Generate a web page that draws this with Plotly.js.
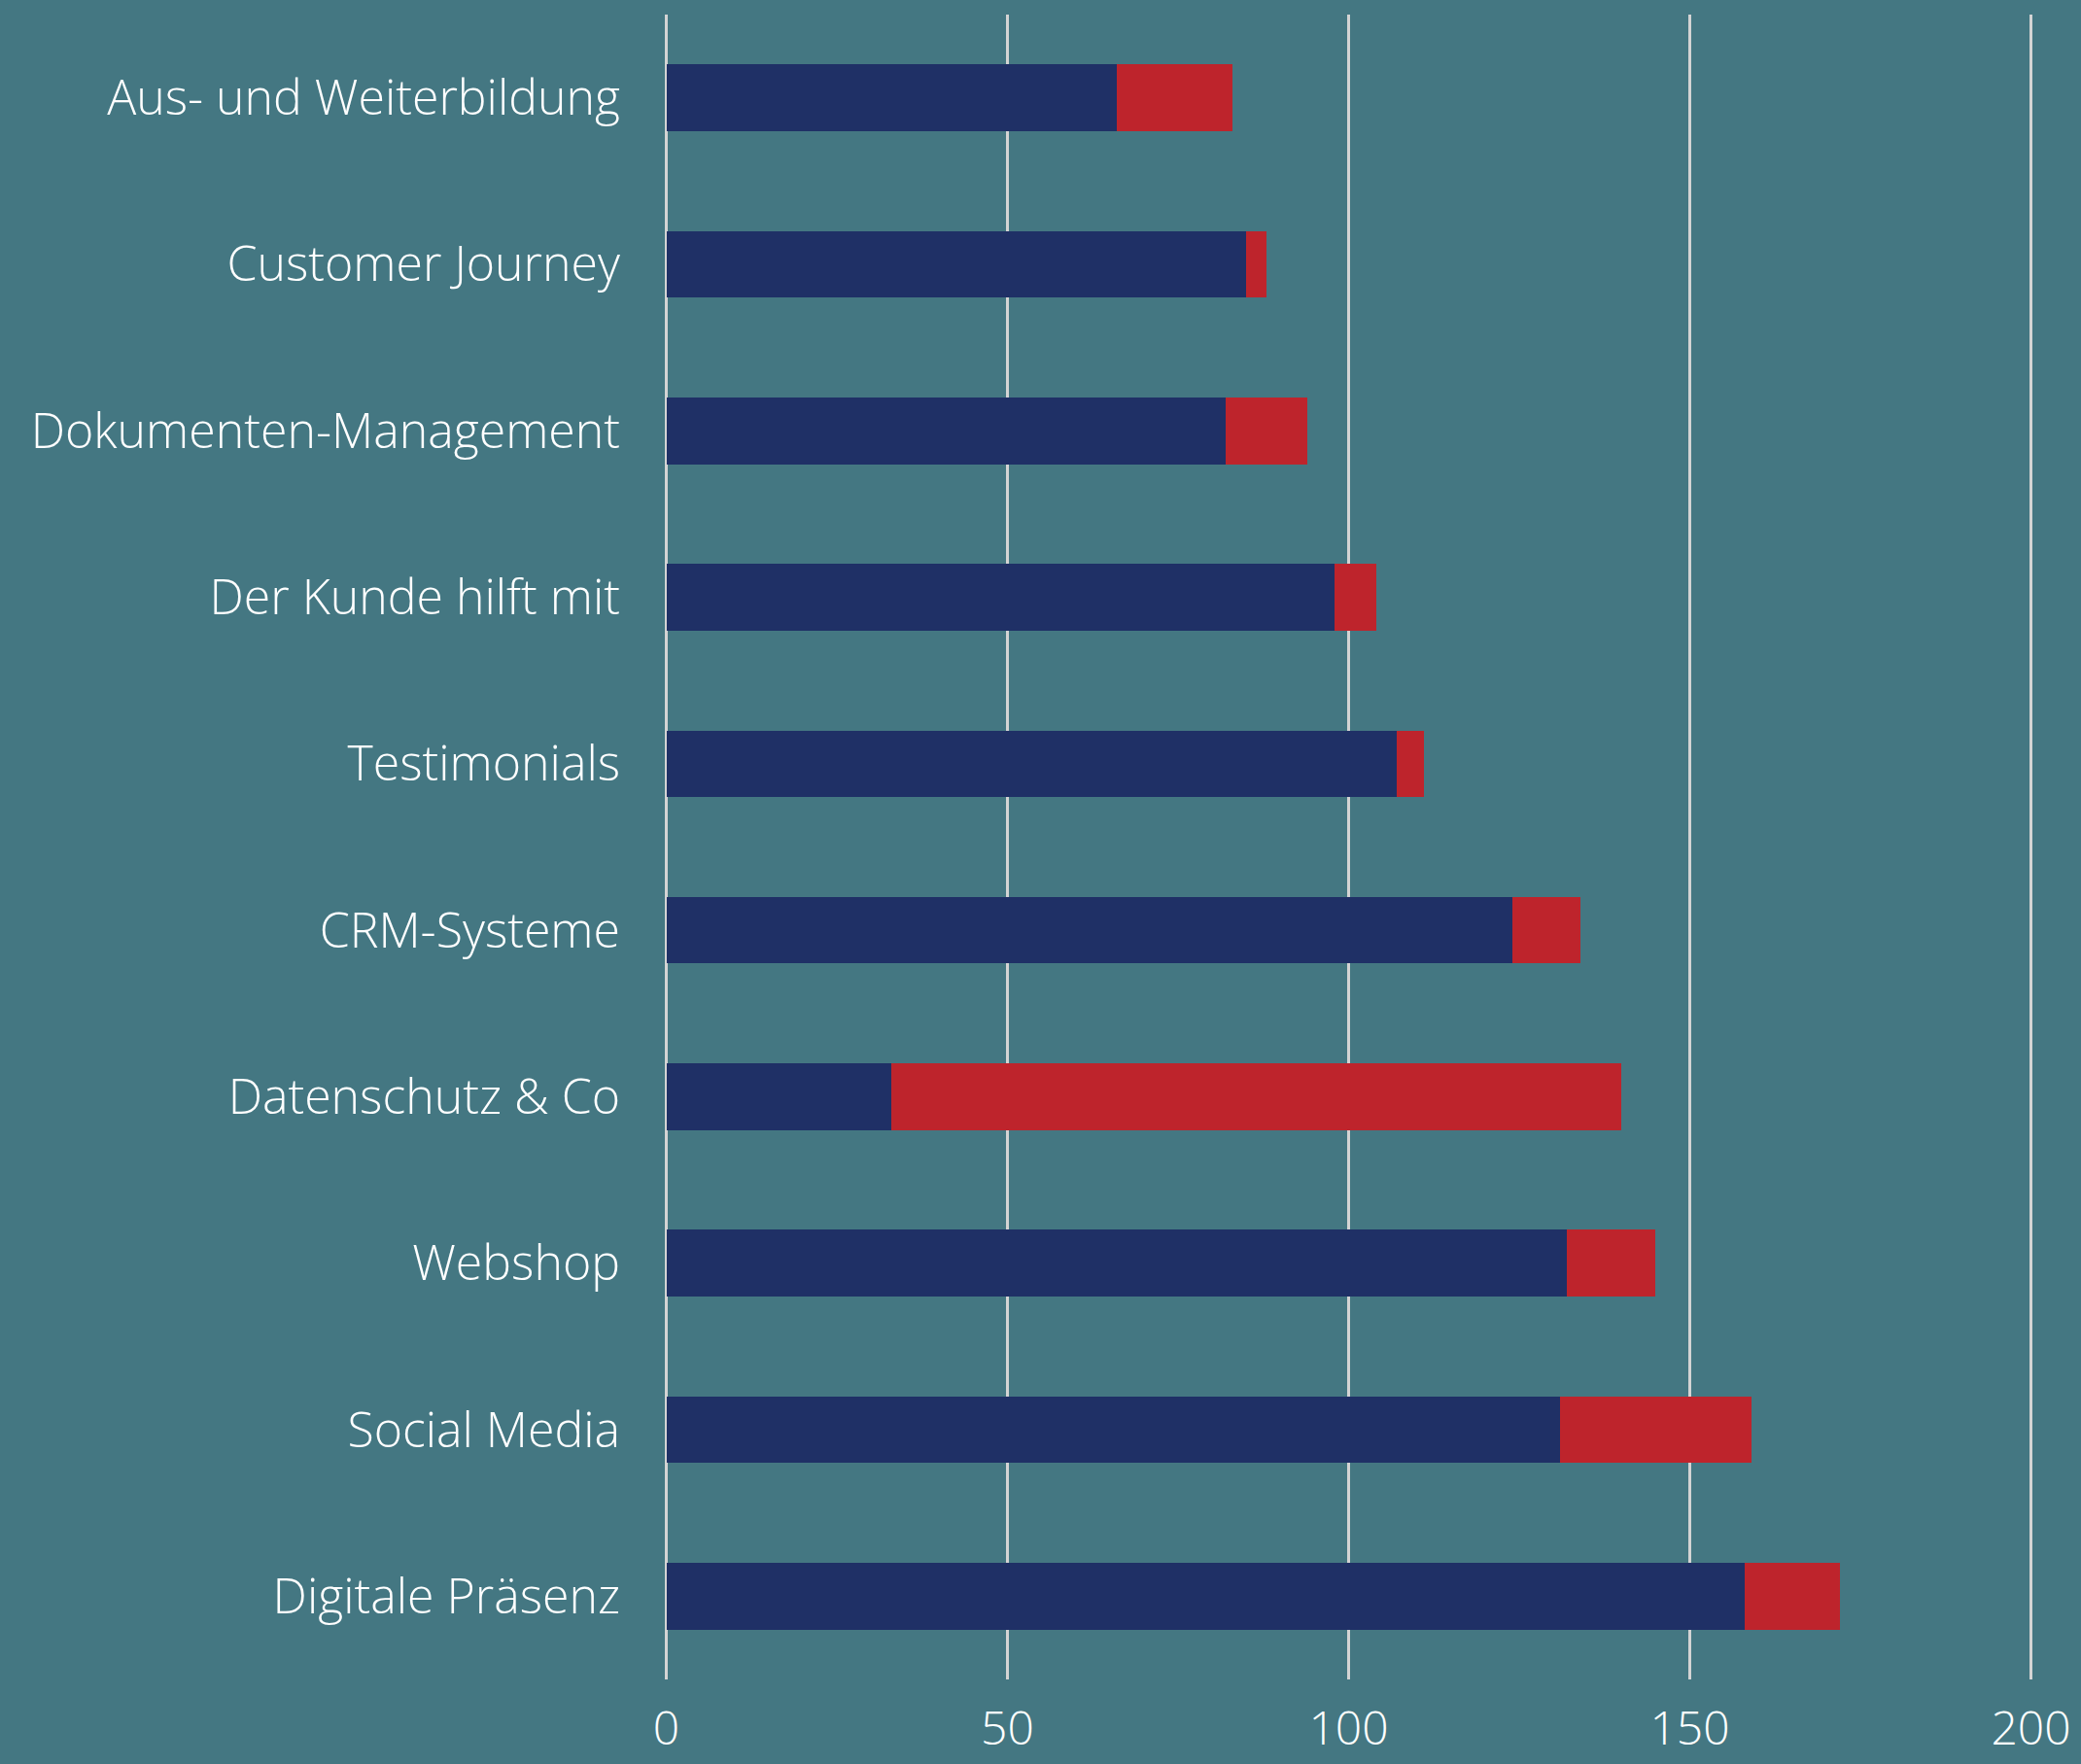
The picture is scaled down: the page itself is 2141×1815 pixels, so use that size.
<!DOCTYPE html>
<html>
<head>
<meta charset="utf-8">
<script src="https://cdn.plot.ly/plotly-3.0.1.min.js"></script>
<style>html,body{margin:0;padding:0;background:#447782;}</style>
</head>
<body>
<div id="chart" style="width:2141px;height:1815px;"></div>
<script>
const categories = ["Aus- und Weiterbildung","Customer Journey","Dokumenten-Management","Der Kunde hilft mit","Testimonials","CRM-Systeme","Datenschutz & Co","Webshop","Social Media","Digitale Präsenz"];
const seriesA = [66, 85, 82, 98, 107, 124, 33, 132, 131, 158];
const seriesB = [17, 3, 12, 6, 4, 10, 107, 13, 28, 14];
const xTicks = [0, 50, 100, 150, 200];

const font = {family: "Open Sans, Lato, sans-serif", color: "#ffffff", size: 50, weight: 300};

const traces = [
  {type: "bar", orientation: "h", y: categories, x: seriesA, marker: {color: "#1f3066"}, width: 0.4, hoverinfo: "skip"},
  {type: "bar", orientation: "h", y: categories, x: seriesB, marker: {color: "#be242c"}, width: 0.4, hoverinfo: "skip"}
];

const layout = {
  width: 2141, height: 1815,
  margin: {l: 681.5, r: 47.5, t: 15, b: 87, pad: 0},
  paper_bgcolor: "#447782",
  plot_bgcolor: "#447782",
  barmode: "stack",
  showlegend: false,
  font: font,
  xaxis: {
    range: [-0.5, 200.5], tickvals: xTicks, ticktext: xTicks.map(String),
    showgrid: true, gridcolor: "#d4d4d4", gridwidth: 3,
    zeroline: false, showline: false, ticks: "",
    ticklabelstandoff: 18,
    tickfont: Object.assign({}, font, {size: 48}), fixedrange: true
  },
  yaxis: {
    type: "category", categoryorder: "array", categoryarray: categories,
    range: [9.5, -0.5], autorange: false,
    showgrid: false, zeroline: false, showline: false, ticks: "",
    ticklabelstandoff: 43,
    tickfont: font, fixedrange: true
  }
};

Plotly.newPlot("chart", traces, layout, {displayModeBar: false, staticPlot: true});
</script>
</body>
</html>
